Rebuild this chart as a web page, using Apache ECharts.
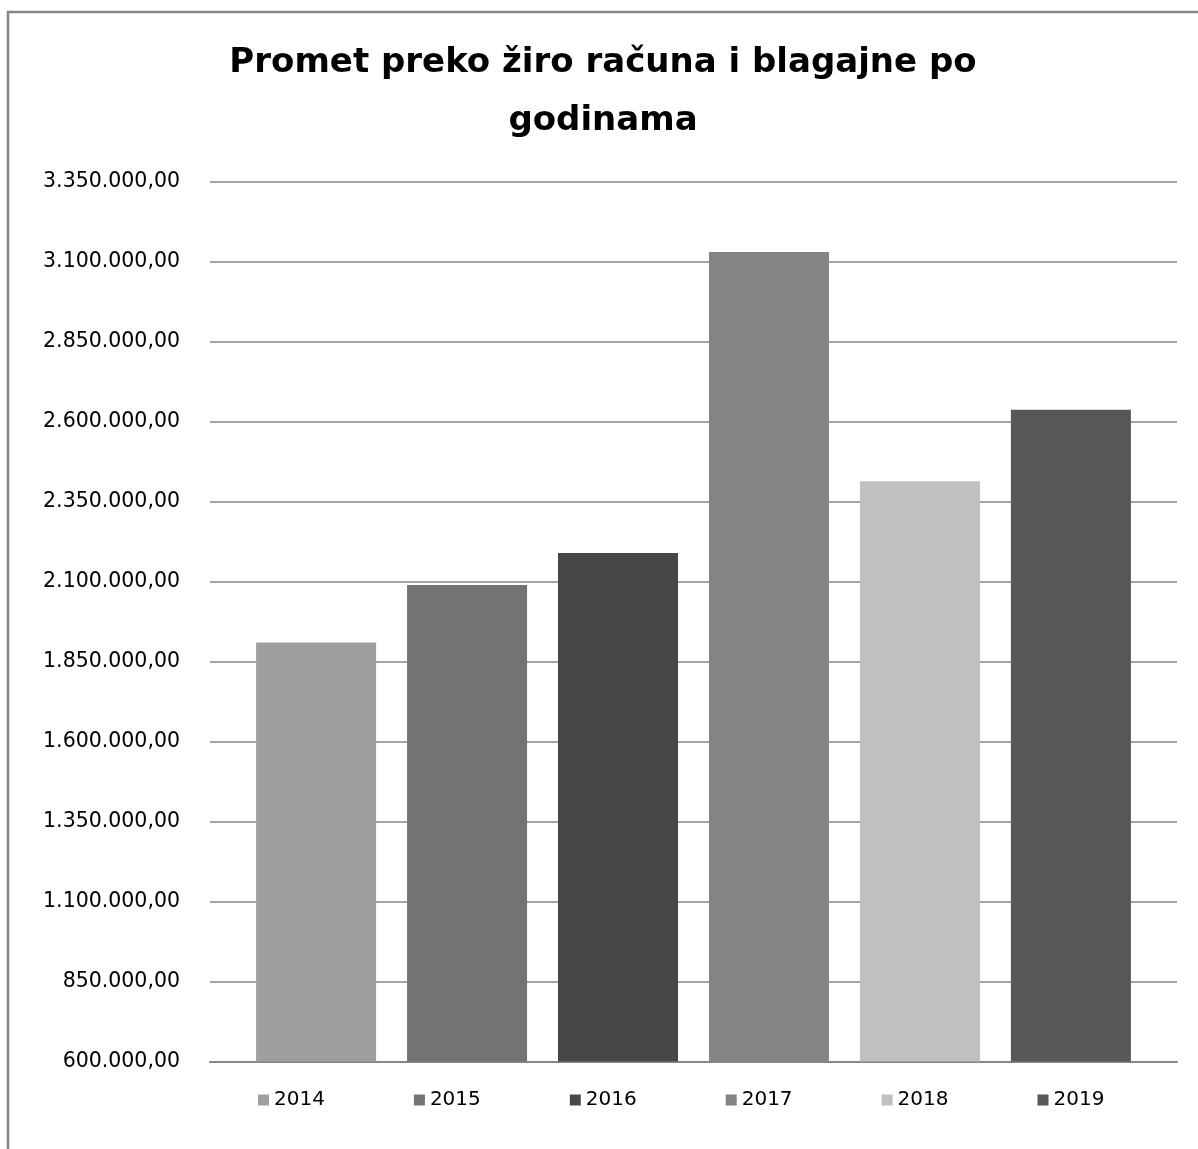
<!DOCTYPE html>
<html>
<head>
<meta charset="utf-8">
<script src="https://cdn.jsdelivr.net/npm/echarts@6/dist/echarts.min.js"></script>
<style>
html,body{margin:0;padding:0;background:#fff;}
#chart{width:1198px;height:1149px;}
</style>
</head>
<body>
<div id="chart"></div>
<script>
const titleLines = ['Promet preko žiro računa i blagajne po', 'godinama'];
const years = ['2014', '2015', '2016', '2017', '2018', '2019'];
const values = [1910000, 2090000, 2190000, 3131000, 2414000, 2638000];
const colors = ['#9f9f9f', '#737373', '#474747', '#848484', '#c0c0c0', '#575757'];
const yMin = 600000;
const yMax = 3350000;
const yStep = 250000;

function fmt(v) {
  const s = Math.round(v).toString().replace(/\B(?=(\d{3})+(?!\d))/g, '.');
  return s + ',00';
}

const chart = echarts.init(document.getElementById('chart'));
const FONT = 'DejaVu Sans';
const titleStyle = { fontFamily: FONT, fontWeight: 'bold', fontSize: 34, fill: '#000000', textAlign: 'center', textVerticalAlign: 'middle' };
chart.setOption({
  backgroundColor: '#ffffff',
  animation: false,
  graphic: [{
    type: 'rect',
    shape: { x: 8, y: 12, width: 1400, height: 1400 },
    style: { fill: 'none', stroke: '#868686', lineWidth: 2.5 },
    silent: true
  }, {
    type: 'text', x: 603, y: 63,
    style: Object.assign({ text: titleLines[0] }, titleStyle)
  }, {
    type: 'text', x: 603, y: 121,
    style: Object.assign({ text: titleLines[1] }, titleStyle)
  }],
  legend: {
    left: 253,
    top: 1085,
    itemWidth: 11,
    itemHeight: 11,
    itemGap: 89,
    icon: 'rect',
    textStyle: { fontFamily: FONT, fontSize: 20, color: '#000000' },
    data: years
  },
  grid: { left: 210, right: 21, top: 182, bottom: 87.5, containLabel: false },
  xAxis: {
    type: 'category',
    data: [''],
    axisLine: { show: true, lineStyle: { color: '#868686', width: 2 } },
    axisTick: { show: false },
    axisLabel: { show: false }
  },
  yAxis: {
    type: 'value',
    min: yMin,
    max: yMax,
    interval: yStep,
    axisLine: { show: false },
    axisTick: { show: false },
    axisLabel: {
      margin: 30,
      fontFamily: FONT,
      fontSize: 20.5,
      color: '#000000',
      formatter: fmt
    },
    splitLine: { lineStyle: { color: '#868686', width: 1.5 } }
  },
  series: years.map((y, i) => ({
    name: y,
    type: 'bar',
    data: [values[i]],
    barWidth: 120,
    barGap: '25.8%',
    itemStyle: { color: colors[i] }
  }))
});
</script>
</body>
</html>
